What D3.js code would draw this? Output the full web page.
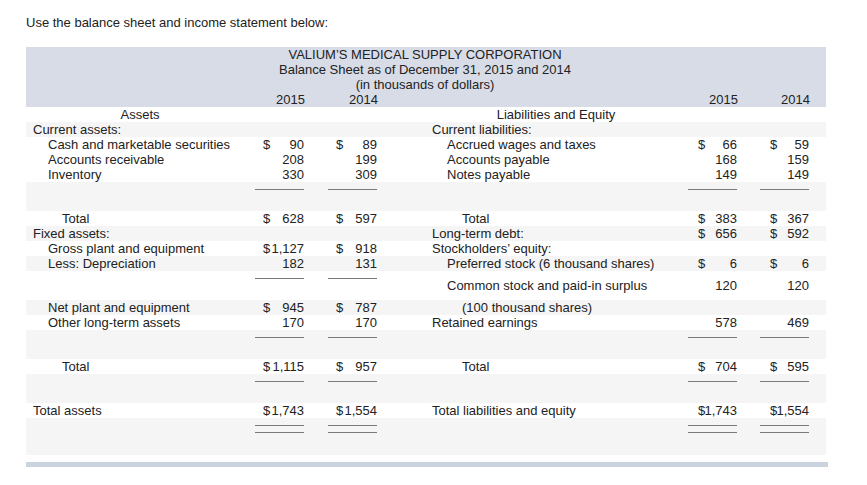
<!DOCTYPE html>
<html><head><meta charset="utf-8">
<script src="https://cdn.jsdelivr.net/npm/d3@7"></script>
<style>
html,body{margin:0;padding:0;background:#fff;}
svg{display:block;font-family:"Liberation Sans",Arial,Helvetica,sans-serif;}
</style></head>
<body>
<script>
// ---------- DATA ----------
const introText = "Use the balance sheet and income statement below:";
const titleLines = ["VALIUM\u2019S MEDICAL SUPPLY CORPORATION", "Balance Sheet as of December 31, 2015 and 2014", "(in thousands of dollars)"];
const years = ["2015", "2014"];
const sectionHeads = ["Assets", "Liabilities and Equity"];

// one entry per table row (null = empty)
const assetLabels = [null, "Current assets:", "Cash and marketable securities", "Accounts receivable", "Inventory", null,
  "Total", "Fixed assets:", "Gross plant and equipment", "Less: Depreciation", null,
  "Net plant and equipment", "Other long-term assets", null, "Total", null, "Total assets", null];
const assets2015 = [null, null, 90, 208, 330, null, 628, null, 1127, 182, null, 945, 170, null, 1115, null, 1743, null];
const assets2014 = [null, null, 89, 199, 309, null, 597, null, 918, 131, null, 787, 170, null, 957, null, 1554, null];
const assetDollar = [0,0,1,0,0,0,1,0,1,0,0,1,0,0,1,0,1,0];
const assetIndent = [0,0,1,1,1,0,2,0,1,1,0,1,1,0,2,0,0,0];

const liabLabels = [null, "Current liabilities:", "Accrued wages and taxes", "Accounts payable", "Notes payable", null,
  "Total", "Long-term debt:", "Stockholders\u2019 equity:", "Preferred stock (6 thousand shares)", "Common stock and paid-in surplus",
  "(100 thousand shares)", "Retained earnings", null, "Total", null, "Total liabilities and equity", null];
const liab2015 = [null, null, 66, 168, 149, null, 383, 656, null, 6, 120, null, 578, null, 704, null, 1743, null];
const liab2014 = [null, null, 59, 159, 149, null, 367, 592, null, 6, 120, null, 469, null, 595, null, 1554, null];
const liabDollar = [0,0,1,0,0,0,1,1,0,1,0,0,0,0,1,0,1,0];
const liabIndent = [0,0,1,1,1,0,2,0,0,1,1,2,0,0,2,0,0,0];

// rule rows: "single" underline, "double" underline; which side(s)
const ruleType  = [null,null,null,null,null,"single",null,null,null,null,"single",null,null,"single",null,"single",null,"double"];
const ruleSides = [null,null,null,null,null,"both",null,null,null,null,"left",null,null,"both",null,"both",null,"both"];

// ---------- LAYOUT ----------
const W = 867, H = 485;
const rowH = ruleType.map(t => t === "single" ? 29 : t === "double" ? 37 : 15);
const shaded = [0,1,0,0,0,1,0,1,0,1,0,1,0,1,0,1,0,1];
const tableTop = 107;
const tops = [tableTop, ...Array.from(d3.cumsum(rowH)).map(c => tableTop + c)].slice(0, rowH.length);

const xLabel = d3.scaleOrdinal().domain(["L0","L1","L2","R0","R1","R2"]).range([33,48,62,432,447,462]);
const xValRight = d3.scaleOrdinal().domain(["A15","A14","L15","L14"]).range([304,377,737,809]);
const xDollar = d3.scaleOrdinal().domain(["A15","A14","L15","L14"]).range([263,336,698,770]);
const ruleW = 49;

const fmt = d3.format(",");
const textColor = "#222";
const fs = 13;

const svg = d3.select("body").append("svg").attr("width", W).attr("height", H);

svg.append("text").attr("x", 26).attr("y", 27).attr("font-size", fs).attr("fill", textColor).text(introText);

// header band
svg.append("rect").attr("x", 26).attr("y", 47).attr("width", 800).attr("height", 60).attr("fill", "#d8dce7");
svg.selectAll("text.title").data(titleLines).join("text").attr("class","title")
  .attr("x", 425).attr("y", (d,i) => 59 + i*15).attr("text-anchor","middle")
  .attr("font-size", fs).attr("fill", textColor).text(d => d);
const yearCols = [["A15",years[0]],["A14",years[1]],["L15",years[0]],["L14",years[1]]];
svg.selectAll("text.year").data(yearCols).join("text").attr("class","year")
  .attr("x", d => xValRight(d[0]) + 1).attr("y", 104).attr("text-anchor","end")
  .attr("font-size", fs).attr("fill", textColor).text(d => d[1]);

// row backgrounds
const rowIdx = d3.range(rowH.length);
svg.selectAll("rect.row").data(rowIdx.filter(i => shaded[i])).join("rect").attr("class","row")
  .attr("x", 26).attr("y", i => tops[i]).attr("width", 800).attr("height", i => rowH[i]).attr("fill", "#f5f5f5");

const baseY = i => tops[i] + rowH[i]/2 + 4.5;

// section heads
svg.selectAll("text.sec").data(sectionHeads).join("text").attr("class","sec")
  .attr("x", (d,i) => i === 0 ? 140 : 556).attr("y", baseY(0)).attr("text-anchor","middle")
  .attr("font-size", fs).attr("fill", textColor).text(d => d);

// labels
const labelData = [];
rowIdx.forEach(i => {
  if (assetLabels[i]) labelData.push({i, t: assetLabels[i], k: "L" + assetIndent[i]});
  if (liabLabels[i]) labelData.push({i, t: liabLabels[i], k: "R" + liabIndent[i]});
});
svg.selectAll("text.lab").data(labelData).join("text").attr("class","lab")
  .attr("x", d => xLabel(d.k)).attr("y", d => baseY(d.i))
  .attr("font-size", fs).attr("fill", textColor).text(d => d.t);

// values
const valData = [];
rowIdx.forEach(i => {
  [["A15", assets2015, assetDollar], ["A14", assets2014, assetDollar], ["L15", liab2015, liabDollar], ["L14", liab2014, liabDollar]]
    .forEach(([c, arr, dol]) => { if (arr[i] != null) valData.push({i, c, v: arr[i], d: dol[i]}); });
});
svg.selectAll("text.val").data(valData).join("text").attr("class","val")
  .attr("x", d => xValRight(d.c)).attr("y", d => baseY(d.i)).attr("text-anchor","end")
  .attr("font-size", fs).attr("fill", textColor).text(d => fmt(d.v));
svg.selectAll("text.dol").data(valData.filter(d => d.d)).join("text").attr("class","dol")
  .attr("x", d => xDollar(d.c)).attr("y", d => baseY(d.i))
  .attr("font-size", fs).attr("fill", textColor).text("$");

// rules
const ruleData = [];
rowIdx.forEach(i => {
  if (!ruleType[i]) return;
  const cols = ruleSides[i] === "left" ? ["A15","A14"] : ["A15","A14","L15","L14"];
  const offs = ruleType[i] === "double" ? [7, 14] : [7];
  cols.forEach(c => offs.forEach(o => ruleData.push({i, c, o})));
});
svg.selectAll("line.rule").data(ruleData).join("line").attr("class","rule")
  .attr("x1", d => xValRight(d.c) - ruleW).attr("x2", d => xValRight(d.c))
  .attr("y1", d => tops[d.i] + d.o + 0.5).attr("y2", d => tops[d.i] + d.o + 0.5)
  .attr("stroke", "#7a7a7a").attr("stroke-width", 1);

// bottom band
svg.append("rect").attr("x", 26).attr("y", 462).attr("width", 802).attr("height", 5).attr("fill", "#cbd3df");
</script>
</body></html>
